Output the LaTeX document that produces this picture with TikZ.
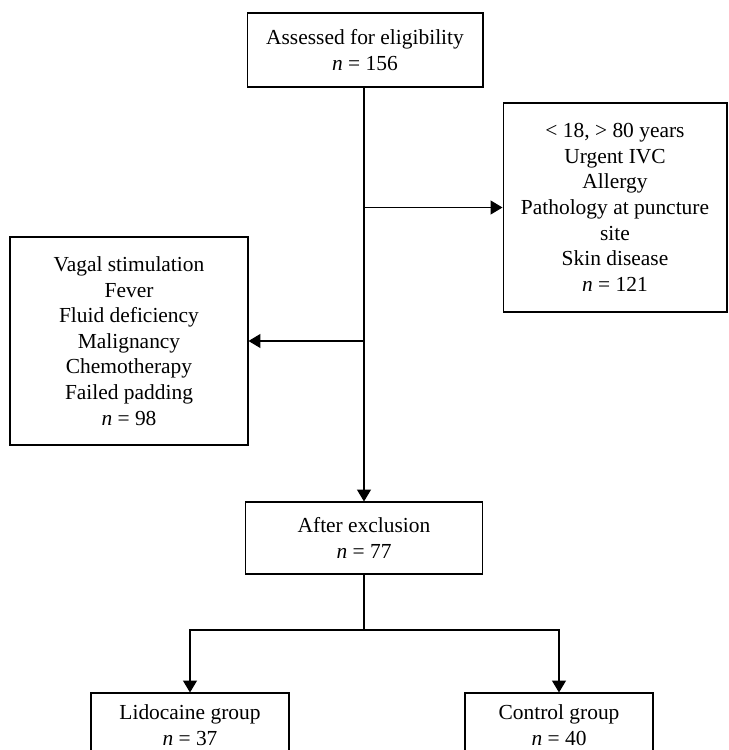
\documentclass[tikz,border=0pt]{standalone}
\usepackage{fontspec}
\setmainfont{Liberation Serif}
\usetikzlibrary{arrows.meta}

\begin{document}
\begin{tikzpicture}[x=0.02cm,y=-0.02cm,
  box/.style={draw=black,line width=0.6pt,align=center,inner sep=0pt,
    font=\fontsize{12.2}{14.6}\selectfont},
  arrow/.style={line width=0.6pt,-{Triangle[length=6.8pt,width=8pt]}},
  link/.style={line width=0.6pt}]
\clip (0,0) rectangle (728,750);
\node[box,minimum width=4.72cm,minimum height=1.48cm] (assessed) at (365,50)
  {Assessed for eligibility\\ \textit{n} = 156};
\node[box,minimum width=4.48cm,minimum height=4.18cm] (excludedA) at (615,207.5)
  {< 18, > 80 years\\ Urgent IVC\\ Allergy\\ Pathology at puncture\\ site\\ Skin disease\\ \textit{n} = 121};
\node[box,minimum width=4.76cm,minimum height=4.16cm] (excludedB) at (129,341)
  {Vagal stimulation\\ Fever\\ Fluid deficiency\\ Malignancy\\ Chemotherapy\\ Failed padding\\ \textit{n} = 98};
\node[box,minimum width=4.74cm,minimum height=1.44cm] (after) at (364,538)
  {After exclusion\\ \textit{n} = 77};
\node[box,minimum width=3.96cm,minimum height=1.28cm] (lidocaine) at (190,725)
  {Lidocaine group\\ \textit{n} = 37};
\node[box,minimum width=3.76cm,minimum height=1.28cm] (control) at (559,725)
  {Control group\\ \textit{n} = 40};
\coordinate (split) at (364,630);
\draw[arrow] (after.north |- assessed.south) -- (after.north);
\draw[arrow] (after.north |- excludedA.west) -- (excludedA.west);
\draw[arrow] (after.north |- excludedB.east) -- (excludedB.east);
\draw[link] (after.south) -- (split);
\draw[arrow] (split) -| (lidocaine.north);
\draw[arrow] (split) -| (control.north);
\end{tikzpicture}
\end{document}
